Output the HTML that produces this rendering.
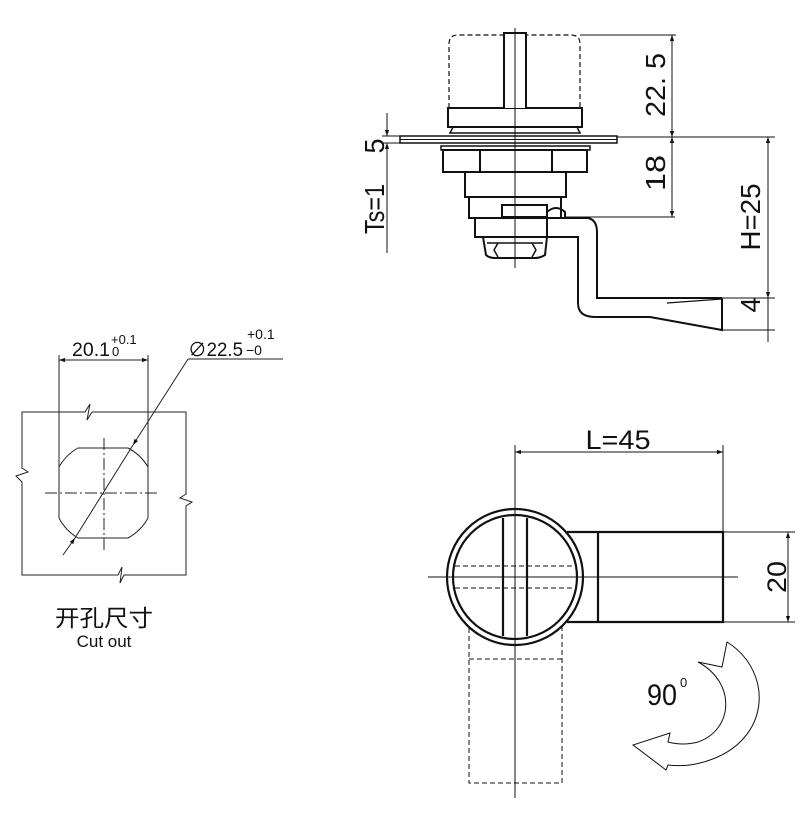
<!DOCTYPE html>
<html><head><meta charset="utf-8"><style>
html,body{margin:0;padding:0;background:#fff;}
svg{display:block}
text{font-family:"Liberation Sans","Noto Sans CJK SC",sans-serif;fill:#111}
</style></head><body>
<svg width="811" height="817" viewBox="0 0 811 817" xmlns="http://www.w3.org/2000/svg">
<defs>
<marker id="a" viewBox="0 0 10 10" refX="10" refY="5" markerWidth="8" markerHeight="6" orient="auto-start-reverse" markerUnits="userSpaceOnUse"><path d="M0,1.5 L10,5 L0,8.5z" fill="#111"/></marker>
</defs>
<g fill="none" stroke="#111">
<path d="M449,108 V44 Q449,35 458,35 H571 Q580,35 580,44 V108" stroke-width="1.2" stroke-dasharray="5,3"/>
<rect x="448" y="108" width="134" height="19" stroke-width="2"/>
<path d="M449,108 H504 V33 H526 V108 H582" stroke-width="2" fill="#fff"/>
<path d="M450,133 L453,127 H577 L580,133 Z" stroke-width="1.5"/>
<rect x="400" y="136" width="217" height="7" stroke-width="1.5" fill="#fff"/>
<line x1="400" y1="139.5" x2="617" y2="139.5" stroke-width="1"/>
<rect x="441" y="146" width="149" height="4" stroke-width="1.5"/>
<rect x="443" y="150" width="144" height="22" stroke-width="2"/>
<line x1="480" y1="150" x2="480" y2="172" stroke-width="2"/>
<line x1="552" y1="150" x2="552" y2="172" stroke-width="2"/>
<rect x="465" y="172" width="101" height="25" stroke-width="2"/>
<rect x="469" y="197" width="92" height="21" stroke-width="2"/>
<rect x="502" y="205" width="45" height="12" stroke-width="2"/>
<path d="M547,217 V212 Q556,204 565,212 V217" stroke-width="2"/>
<rect x="475" y="218" width="72" height="19" stroke-width="2"/>
<path d="M483,237 H547 L545,255 Q540,258 535,258 H495 Q489,258 486,255 Z" stroke-width="2"/>
<path d="M487,243 H543 M498,243 L494,250 L498,257 M532,243 L536,250 L532,257" stroke-width="1.5"/>
<path d="M547,218 H588 Q597,220 597,232 V298 H722" stroke-width="2"/>
<path d="M547,237 H578 V303 Q578,317 595,317 H650 L722,330 V298" stroke-width="2"/>
<path d="M667,303 L722,299" stroke-width="1.3"/>
<line x1="515" y1="28" x2="515" y2="268" stroke-width="1"/>
<line x1="580" y1="35" x2="676" y2="35" stroke-width="1"/>
<line x1="672" y1="35" x2="672" y2="137" stroke-width="1" marker-start="url(#a)" marker-end="url(#a)"/>
<line x1="617" y1="137" x2="775" y2="137" stroke-width="1"/>
<line x1="672" y1="137" x2="672" y2="217" stroke-width="1" marker-start="url(#a)" marker-end="url(#a)"/>
<line x1="565" y1="217" x2="675" y2="217" stroke-width="1"/>
<line x1="768" y1="137" x2="768" y2="298" stroke-width="1" marker-start="url(#a)" marker-end="url(#a)"/>
<line x1="722" y1="298" x2="775" y2="298" stroke-width="1"/>
<line x1="722" y1="330" x2="775" y2="330" stroke-width="1"/>
<line x1="768" y1="298" x2="768" y2="342" stroke-width="1"/>
<line x1="387" y1="113" x2="387" y2="136" stroke-width="1" marker-end="url(#a)"/>
<line x1="387" y1="143" x2="387" y2="253" stroke-width="1" marker-start="url(#a)"/>
<line x1="382" y1="136" x2="400" y2="136" stroke-width="1"/>
<line x1="382" y1="143" x2="400" y2="143" stroke-width="1"/>
</g>
<g font-size="28">
<text transform="translate(665,85) rotate(-90)" text-anchor="middle" textLength="64" lengthAdjust="spacingAndGlyphs">22. 5</text>
<text transform="translate(665,173) rotate(-90)" text-anchor="middle" textLength="36" lengthAdjust="spacingAndGlyphs">18</text>
<text transform="translate(760,217) rotate(-90)" text-anchor="middle" textLength="67" lengthAdjust="spacingAndGlyphs">H=25</text>
<text transform="translate(760,305) rotate(-90)" text-anchor="middle" textLength="15" lengthAdjust="spacingAndGlyphs">4</text>
<text transform="translate(384,209) rotate(-90)" text-anchor="middle" textLength="50" lengthAdjust="spacingAndGlyphs">Ts=1</text>
<text transform="translate(384,146) rotate(-90)" text-anchor="middle" textLength="15" lengthAdjust="spacingAndGlyphs">5</text>
</g>

<g fill="none" stroke="#222" stroke-width="1">
<path d="M22,412 H85 L90,404 L87,420 L92,412 H186 V494 L180,498 L192,502 L186,506 V575 H124 L120,583 L122,567 L118,575 H22 V482 L16,476 L28,472 L22,468 Z"/>
<line x1="59" y1="355" x2="59" y2="517"/>
<line x1="148" y1="355" x2="148" y2="517"/>
<line x1="59" y1="360" x2="148" y2="360" marker-start="url(#a)" marker-end="url(#a)"/>
<path d="M78,448 H128 A50,50 0 0 1 148,467 V518 A50,50 0 0 1 128,538 H78 A50,50 0 0 1 59,518 V467 A50,50 0 0 1 78,448 Z"/>
<line x1="45" y1="493" x2="160" y2="493" stroke-dasharray="12,3,2,3"/>
<line x1="104" y1="438" x2="104" y2="552" stroke-dasharray="12,3,2,3"/>
<line x1="63" y1="555" x2="75" y2="538" marker-end="url(#a)"/>
<line x1="75" y1="538" x2="133" y2="445"/>
<line x1="188" y1="359" x2="133" y2="445" marker-end="url(#a)"/>
<line x1="188" y1="359" x2="283" y2="359"/>
</g>
<text x="72" y="356" font-size="19" textLength="38" lengthAdjust="spacingAndGlyphs">20.1</text>
<text x="111" y="344" font-size="13">+0.1</text>
<text x="112" y="356" font-size="13">0</text>
<text x="188" y="356" font-size="19" textLength="55" lengthAdjust="spacingAndGlyphs">∅22.5</text>
<text x="247" y="339" font-size="14">+0.1</text>
<text x="246" y="355" font-size="14">−0</text>
<text x="104" y="626" font-size="23" text-anchor="middle" textLength="98" lengthAdjust="spacingAndGlyphs">开孔尺寸</text>
<text x="104" y="647" font-size="17" text-anchor="middle">Cut out</text>

<g fill="none" stroke="#111">
<rect x="469" y="623" width="93" height="160" stroke-width="1" stroke-dasharray="5,3"/>
<line x1="469" y1="659" x2="562" y2="659" stroke-width="1" stroke-dasharray="5,3"/>
<path d="M567,532 H723 V622 H567" stroke-width="2.2"/>
<line x1="598" y1="532" x2="598" y2="622" stroke-width="2.2"/>
<circle cx="515" cy="577" r="68" stroke-width="2.2" fill="#fff"/>
<circle cx="515" cy="577" r="62" stroke-width="2.2"/>
<line x1="503" y1="518" x2="503" y2="636" stroke-width="2.2"/>
<line x1="527" y1="518" x2="527" y2="636" stroke-width="2.2"/>
<line x1="455" y1="566" x2="575" y2="566" stroke-width="1" stroke-dasharray="5,3"/>
<line x1="455" y1="588" x2="575" y2="588" stroke-width="1" stroke-dasharray="5,3"/>
<line x1="428" y1="577" x2="738" y2="577" stroke-width="1"/>
<line x1="515" y1="445" x2="515" y2="798" stroke-width="1"/>
<line x1="723" y1="445" x2="723" y2="532" stroke-width="1"/>
<line x1="515" y1="452" x2="723" y2="452" stroke-width="1" marker-start="url(#a)" marker-end="url(#a)"/>
<line x1="723" y1="532" x2="795" y2="532" stroke-width="1"/>
<line x1="723" y1="622" x2="795" y2="622" stroke-width="1"/>
<line x1="788" y1="532" x2="788" y2="622" stroke-width="1" marker-start="url(#a)" marker-end="url(#a)"/>
<path d="M698,662 L722,667 L727,642 C775,672 772,745 700,763 Q685,767 668,765 L666,770 L633,745 L670,733 L668,742 Q683,746 698,742 C733,730 737,683 698,662 Z" stroke-width="1"/>
</g>
<text x="618" y="449" font-size="27" text-anchor="middle" textLength="65" lengthAdjust="spacingAndGlyphs">L=45</text>
<text transform="translate(786,577) rotate(-90)" text-anchor="middle" font-size="27" textLength="32" lengthAdjust="spacingAndGlyphs">20</text>
<text x="647" y="705" font-size="30" textLength="30" lengthAdjust="spacingAndGlyphs">90</text>
<text x="680" y="687" font-size="13">0</text>
</svg>
</body></html>
